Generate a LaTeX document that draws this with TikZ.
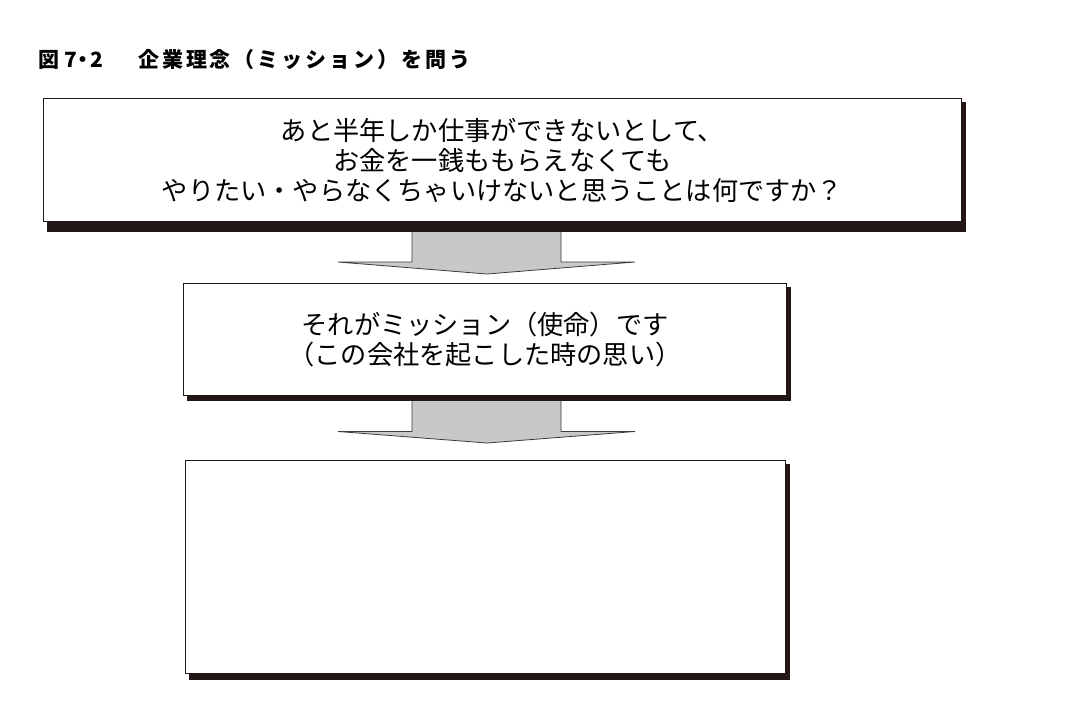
\documentclass[tikz,border=0pt]{standalone}
\usepackage{fontspec}
\newfontfamily\jp{Noto Sans CJK JP}
\newfontfamily\jpsp[LetterSpace=14]{Noto Sans CJK JP}
\definecolor{shadowc}{RGB}{35,24,22}
\definecolor{arrowfill}{RGB}{200,200,200}
\definecolor{arrowline}{RGB}{60,60,60}
\tikzset{
  box/.style={draw=shadowc, line width=1.3pt, fill=white, inner sep=0pt, outer sep=0pt, align=center},
  boxtext/.style={font=\jp\fontsize{26.2pt}{30pt}\selectfont},
  shadowbox/.style={fill=shadowc},
  blockarrow/.style={fill=arrowfill, draw=arrowline, line width=0.8pt, line join=miter},
  titletext/.style={font=\jp\bfseries\fontsize{21pt}{26pt}\selectfont, anchor=west, inner sep=0pt},
  titlespaced/.style={font=\jpsp\bfseries\fontsize{21pt}{26pt}\selectfont, anchor=west, inner sep=0pt}
}
\begin{document}
\begin{tikzpicture}[x=1pt,y=-1pt]
\useasboundingbox[fill=white] (0,0) rectangle (1080,718);
% title
\node[titletext] (t1) at (38,60) {図\hspace{5pt}7\makebox[13pt]{・}2};
\node[titlespaced] (t2) at (138,60) {企業理念（ミッション）を問う};
% arrows (drawn first so shadows cover their tops)
\draw[blockarrow] (412,230) -- (412,262) -- (338,262) -- (487,274) -- (635,262) -- (561,262) -- (561,230);
\draw[blockarrow] (412,399) -- (412,431.5) -- (338,431.5) -- (487,443) -- (635,431.5) -- (561,431.5) -- (561,399);
% shadows
\fill[shadowbox] (47,102) rectangle (966,232);
\fill[shadowbox] (187,287) rectangle (791,401);
\fill[shadowbox] (189,464) rectangle (790,680);
% boxes
\node[box, boxtext, minimum width=918pt, minimum height=123pt] (b1) at (502.5,160)
  {あと半年しか仕事ができないとして、\\お金を一銭ももらえなくても\\やりたい・やらなくちゃいけないと思うことは何ですか？};
\node[box, boxtext, minimum width=603pt, minimum height=112pt] (b2) at (485,339.5)
  {それがミッション（使命）です\\（この会社を起こした時の思い）};
\node[box, minimum width=600pt, minimum height=213pt] (b3) at (485.5,567) {};
\end{tikzpicture}
\end{document}
